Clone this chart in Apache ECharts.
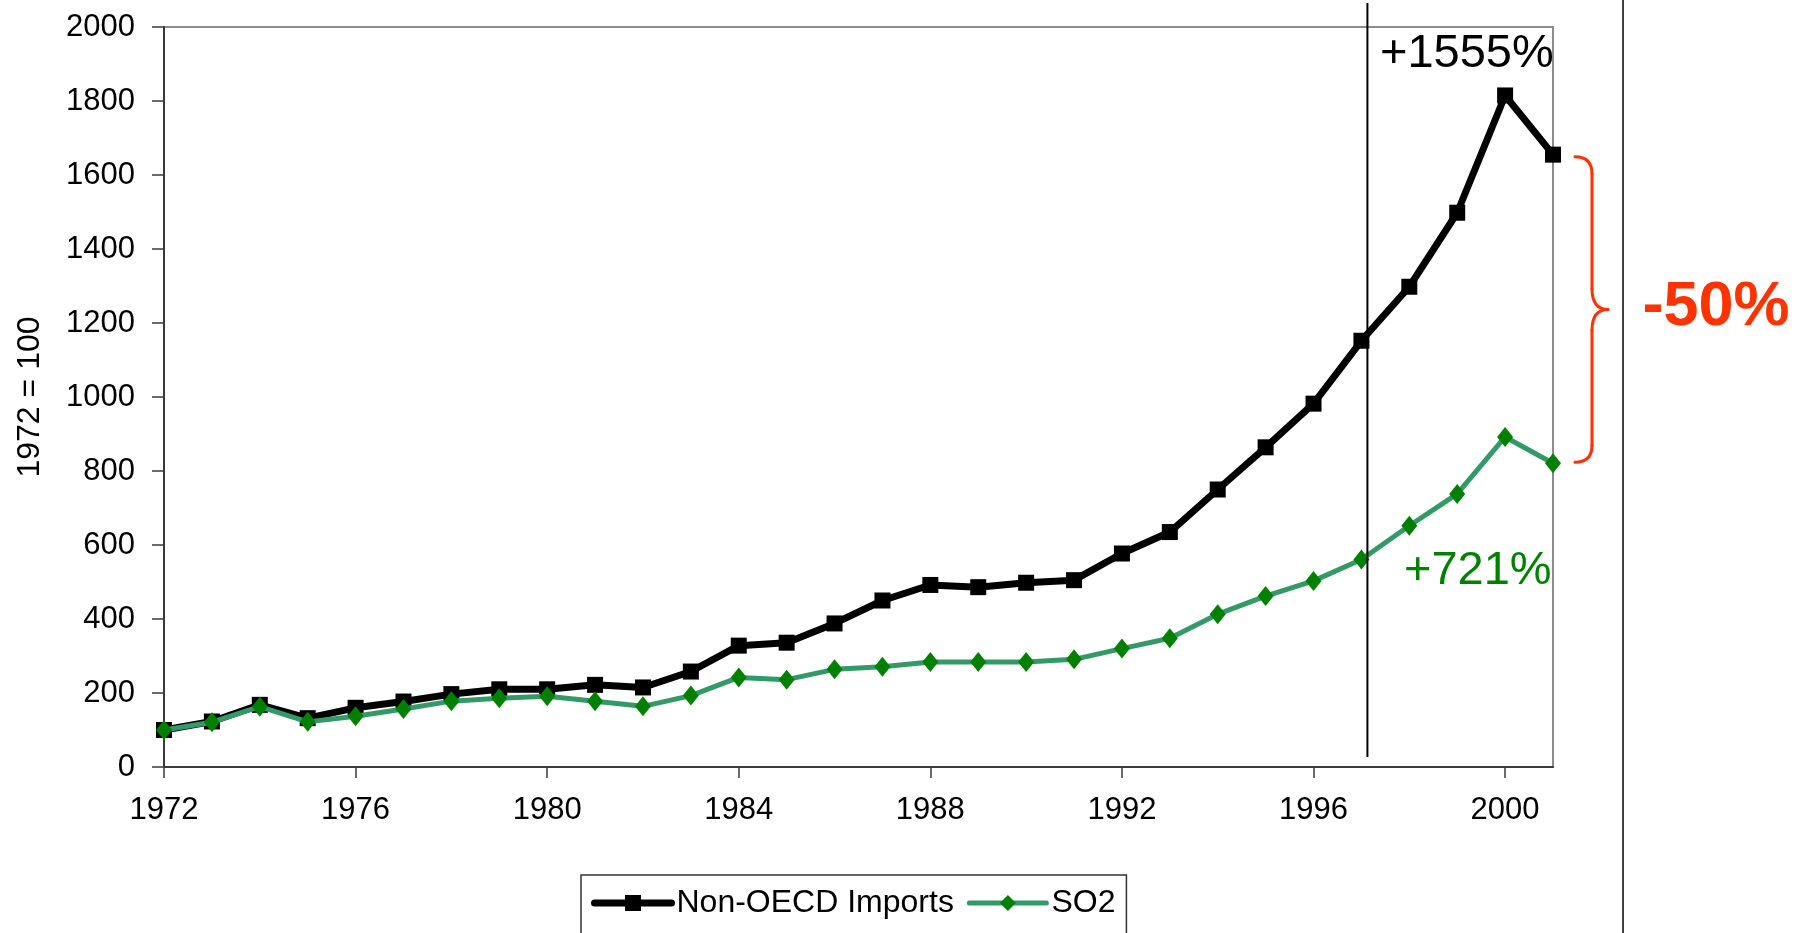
<!DOCTYPE html>
<html>
<head>
<meta charset="utf-8">
<script src="https://cdn.jsdelivr.net/npm/echarts@6/dist/echarts.min.js"></script>
<style>
html,body{margin:0;padding:0;background:#fff;}
#chart{width:1815px;height:933px;}
</style>
</head>
<body>
<div id="chart"></div>
<script>
const years = ['1972','1973','1974','1975','1976','1977','1978','1979','1980','1981','1982','1983','1984','1985','1986','1987','1988','1989','1990','1991','1992','1993','1994','1995','1996','1997','1998','1999','2000','2001'];
const nonOecdImports = [100,123,168,132,160,177,197,210,210,222,215,258,328,336,388,450,492,486,498,505,577,635,750,864,982,1152,1298,1498,1815,1655];
const so2 = [100,121,163,122,137,157,178,186,191,178,164,193,242,236,264,271,284,284,284,291,320,348,413,462,503,561,652,738,892,821];
const yTicks = [0,200,400,600,800,1000,1200,1400,1600,1800,2000];
const seriesNames = ['Non-OECD Imports','SO2'];
const yAxisTitle = '1972 = 100';
const noteImports = '+1555%';
const noteSo2 = '+721%';
const noteGap = '-50%';
const markYear = '1997';

const FONT = '"Liberation Sans", Arial, sans-serif';
const chart = echarts.init(document.getElementById('chart'), null, {renderer:'canvas'});

const option = {
  animation: false,
  backgroundColor: '#fff',
  textStyle: {fontFamily: FONT},
  grid: {left: 164, top: 27, width: 1389, height: 740, show: true, borderColor: '#8c8c8c', borderWidth: 2, backgroundColor: 'transparent'},
  legend: {
    left: 581, top: 875,
    padding: [12, 11, 20, 10],
    borderColor: '#333', borderWidth: 1.5,
    itemWidth: 77, itemHeight: 20, itemGap: 13,
    textStyle: {fontFamily: FONT, fontSize: 32, color: '#000'},
    data: [
      {name: seriesNames[0], lineStyle: {width: 7, cap: 'round', color: '#000'}},
      {name: seriesNames[1], lineStyle: {width: 5, cap: 'round', color: '#339966'}}
    ]
  },
  xAxis: {
    type: 'category', data: years, boundaryGap: false,
    axisLine: {lineStyle: {color: '#3a3a3a', width: 2}},
    axisTick: {interval: 3, length: 11, lineStyle: {color: '#3a3a3a', width: 1.5}},
    axisLabel: {interval: 3, margin: 28, fontSize: 31, color: '#000', fontFamily: FONT},
    splitLine: {show: false}
  },
  yAxis: {
    type: 'value', min: yTicks[0], max: yTicks[yTicks.length-1], interval: yTicks[1]-yTicks[0],
    name: yAxisTitle, nameLocation: 'middle', nameGap: 118, nameRotate: 90,
    nameTextStyle: {fontSize: 32, color: '#000', fontFamily: FONT},
    axisLine: {show: true, lineStyle: {color: '#3a3a3a', width: 2}},
    axisTick: {show: true, length: 12, lineStyle: {color: '#3a3a3a', width: 1.5}},
    axisLabel: {margin: 29, fontSize: 31, color: '#000', fontFamily: FONT, formatter: v => String(v)},
    splitLine: {show: false}
  },
  series: [
    {
      name: seriesNames[0], type: 'line', data: nonOecdImports,
      symbol: 'rect', symbolSize: 16, showAllSymbol: true,
      lineStyle: {color: '#000', width: 7, cap: 'round', join: 'round'},
      itemStyle: {color: '#000'}, z: 2
    },
    {
      name: seriesNames[1], type: 'line', data: so2,
      symbol: 'diamond', symbolSize: [16, 20], showAllSymbol: true,
      lineStyle: {color: '#339966', width: 5, cap: 'round', join: 'round'},
      itemStyle: {color: '#008000'}, z: 3
    }
  ]
};
chart.setOption(option);

const n = years.length;
const pBlack = chart.convertToPixel({gridIndex: 0}, [years[n-1], nonOecdImports[n-1]]);
const pGreen = chart.convertToPixel({gridIndex: 0}, [years[n-1], so2[n-1]]);
const pMark = chart.convertToPixel({gridIndex: 0}, [markYear, 0]);

const bx0 = pBlack[0] + 22, bx1 = bx0 + 17, bx2 = bx0 + 33;
const yt = pBlack[1] + 2, yb = pGreen[1] - 1, ym = (yt + yb) / 2;
const braceStyle = {stroke: '#ff3300', lineWidth: 3, fill: null, lineCap: 'round'};
const brace = [
  {type: 'bezierCurve', z: 10, shape: {x1: bx0, y1: yt, cpx1: bx1, cpy1: yt, x2: bx1, y2: yt + 17}, style: braceStyle},
  {type: 'line', z: 10, shape: {x1: bx1, y1: yt + 17, x2: bx1, y2: ym - 21}, style: braceStyle},
  {type: 'bezierCurve', z: 10, shape: {x1: bx1, y1: ym - 21, cpx1: bx1, cpy1: ym, x2: bx2, y2: ym}, style: braceStyle},
  {type: 'bezierCurve', z: 10, shape: {x1: bx2, y1: ym, cpx1: bx1, cpy1: ym, x2: bx1, y2: ym + 21}, style: braceStyle},
  {type: 'line', z: 10, shape: {x1: bx1, y1: ym + 21, x2: bx1, y2: yb - 17}, style: braceStyle},
  {type: 'bezierCurve', z: 10, shape: {x1: bx1, y1: yb - 17, cpx1: bx1, cpy1: yb, x2: bx0, y2: yb}, style: braceStyle}
];

chart.setOption({
  graphic: [
    {type: 'line', z: 10, shape: {x1: pMark[0] + 6, y1: 3, x2: pMark[0] + 6, y2: 757}, style: {stroke: '#000', lineWidth: 2}},
    {type: 'line', z: 10, shape: {x1: 1623, y1: 0, x2: 1623, y2: 933}, style: {stroke: '#404040', lineWidth: 2}},
    ...brace,
    {type: 'text', z: 11, x: 1380, y: 54, style: {text: noteImports, fill: '#000', font: '47px ' + FONT, textAlign: 'left', textVerticalAlign: 'middle'}},
    {type: 'text', z: 11, x: 1404, y: 571, style: {text: noteSo2, fill: '#008000', font: '47px ' + FONT, textAlign: 'left', textVerticalAlign: 'middle'}},
    {type: 'text', z: 11, x: 1716, y: 308, style: {text: noteGap, fill: '#ff3300', font: 'bold 63px ' + FONT, textAlign: 'center', textVerticalAlign: 'middle'}}
  ]
});
</script>
</body>
</html>
